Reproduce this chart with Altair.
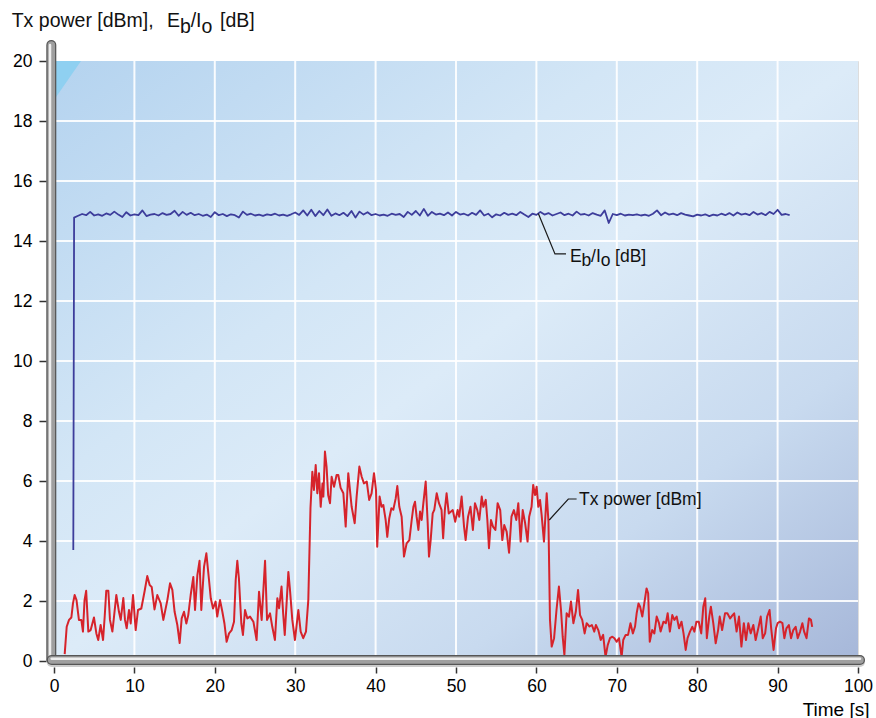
import altair as alt
import pandas as pd

FONT = "Liberation Sans"

# ---------------- data ----------------
x_ticks = [0, 10, 20, 30, 40, 50, 60, 70, 80, 90, 100]
y_ticks = [0, 2, 4, 6, 8, 10, 12, 14, 16, 18, 20]
x_grid = [10, 20, 30, 40, 50, 60, 70, 80, 90]
y_grid = [2, 4, 6, 8, 10, 12, 14, 16, 18]

# Tx power [dBm]
tx_time_a = [1.33, 1.58, 1.87, 2.16, 2.36, 2.57, 2.8, 3.1, 3.4, 3.6, 3.8, 4.0, 4.27, 4.56, 4.97, 5.27, 5.5, 5.8,
             6.1, 6.3, 6.5, 6.76, 6.96, 7.26, 7.46, 7.75, 8.08, 8.3, 8.62, 8.83, 9.04, 9.33, 9.54, 9.83, 10.16,
             10.45, 10.86, 11.28, 11.6, 11.9, 12.15, 12.5, 12.85, 13.27, 13.6, 14.1, 14.43, 14.72, 15.0, 15.34,
             15.63, 15.88, 16.17, 16.46, 16.7, 17.0, 17.33, 17.54, 17.83, 18.1, 18.32, 18.66, 18.95, 19.28, 19.5,
             19.78, 20.1, 20.3, 20.65, 20.94, 21.2, 21.47, 21.77, 22.1, 22.39, 22.6, 22.8, 23.0, 23.3, 23.5,
             23.76, 24.05]
tx_power_a = [0.23, 1.14, 1.37, 1.45, 1.92, 2.2, 2.03, 1.37, 1.37, 0.98, 2.03, 2.34, 0.98, 1.03, 1.45, 0.92, 0.7,
              1.2, 0.7, 1.46, 2.34, 2.34, 1.37, 0.98, 1.46, 2.2, 1.64, 1.37, 2.1, 1.37, 1.09, 1.7, 1.25, 2.2, 1.03,
              1.7, 1.75, 2.34, 2.83, 2.53, 2.47, 1.72, 2.2, 1.92, 1.37, 2.03, 2.59, 2.37, 1.64, 1.2, 0.6, 1.42,
              1.64, 1.25, 1.53, 2.2, 2.8, 1.7, 2.86, 3.34, 1.7, 3.14, 3.59, 2.7, 2.09, 1.75, 1.98, 1.48, 2.03,
              1.64, 1.25, 0.64, 0.92, 1.03, 1.31, 2.7, 3.34, 2.75, 1.25, 0.87, 1.7, 1.42]
tx_time_b = [24.38, 24.8, 25.2, 25.5, 25.83, 26.25, 26.5, 26.87, 27.15, 27.48, 27.78, 28.0, 28.3, 28.5, 28.7,
             28.94, 29.15, 29.35, 29.64, 29.97, 30.39, 30.68, 31.0, 31.34, 31.63, 31.9, 32.13, 32.33, 32.55,
             32.75, 32.96, 33.17, 33.4, 33.5, 33.7, 33.9, 34.1, 34.33, 34.53, 34.83, 35.15, 35.36, 35.65, 35.99,
             36.28, 36.6, 37.02, 37.4, 37.64, 37.98, 38.27, 38.55, 38.9, 39.2, 39.5, 39.8, 40.05, 40.2, 40.5,
             40.74, 40.96, 41.25, 41.45, 41.7, 41.96, 42.2, 42.5, 42.7, 42.95, 43.24, 43.53, 43.86, 44.2, 44.49,
             44.7, 44.9, 45.1, 45.32, 45.53, 45.73, 45.94, 46.23, 46.48, 46.64, 46.85, 47.1, 47.3, 47.6, 47.88,
             48.2, 48.4, 48.63, 48.83, 49.1]
tx_power_b = [1.48, 1.31, 0.70, 2.31, 1.37, 3.34, 1.37, 1.59, 1.14, 0.70, 2.09, 1.76, 2.48, 1.59, 0.87, 1.98,
              2.97, 2.37, 1.37, 0.7, 1.7, 0.98, 0.76, 0.98, 2.03, 5.09, 6.31, 5.7, 6.53, 5.59, 6.26, 5.14, 5.92,
              5.48, 6.98, 6.48, 5.53, 5.26, 6.14, 5.81, 6.2, 6.2, 5.77, 5.59, 4.48, 6.26, 5.14, 4.59, 5.48, 6.48,
              6.14, 5.92, 5.98, 5.37, 5.59, 6.26, 5.7, 3.81, 5.48, 5.14, 5.2, 4.7, 4.14, 4.76, 5.09, 5.04, 5.42,
              5.83, 5.14, 4.81, 3.48, 3.92, 4.03, 4.7, 5.14, 5.31, 4.81, 4.37, 4.98, 4.7, 5.26, 5.98, 4.59, 3.48,
              4.03, 4.92, 5.04, 5.59, 5.26, 5.04, 4.09, 5.09, 5.59, 4.92]
tx_time_c = [49.6, 49.9, 50.2, 50.4, 50.7, 51.0, 51.2, 51.5, 51.8, 52.1, 52.36, 52.65, 52.9, 53.2, 53.4, 53.7,
             53.9, 54.1, 54.35, 54.6, 54.9, 55.18, 55.5, 55.76, 56.0, 56.3, 56.6, 56.9, 57.2, 57.5, 57.75, 58.04,
             58.3, 58.6, 58.9, 59.1, 59.4, 59.6, 59.83, 60.03, 60.24, 60.45, 60.65, 60.94, 61.28, 61.5, 61.69,
             61.9, 62.2, 62.5, 62.8, 63.06, 63.27, 63.48, 63.76, 64.05, 64.3, 64.6, 64.9, 65.18, 65.43, 65.7,
             66.0, 66.25, 66.6, 66.9, 67.2, 67.4, 67.7, 68.0, 68.3, 68.6, 68.87, 69.15, 69.45, 69.7, 69.98,
             70.27, 70.6, 70.8, 71.1, 71.4, 71.7, 72.0, 72.27, 72.47, 72.7, 72.9, 73.17, 73.42, 73.7, 73.9, 74.1]
tx_power_c = [5.03, 4.64, 5.03, 4.81, 5.48, 4.48, 4.03, 4.81, 5.14, 4.37, 5.26, 5.03, 4.7, 5.48, 5.14, 5.37, 4.7,
              3.76, 4.7, 4.48, 4.37, 5.26, 5.03, 4.03, 4.53, 4.31, 3.61, 4.81, 5.03, 4.7, 5.26, 3.98, 5.03, 4.59,
              3.98, 4.81, 5.14, 5.87, 5.53, 5.81, 5.14, 5.37, 4.87, 3.98, 5.59, 4.64, 1.37, 0.48, 0.76, 1.7, 2.48,
              1.7, 0.81, 0.2, 1.59, 1.48, 1.98, 1.26, 1.64, 2.37, 1.53, 1.37, 0.92, 1.26, 1.15, 1.2, 0.98, 1.2,
              1.03, 0.7, 0.87, 0.14, 0.53, 0.76, 0.81, 0.76, 0.64, 0.76, 0.14, 0.7, 0.87, 0.87, 1.26, 0.92, 1.15,
              1.59, 1.92, 1.81, 1.48, 1.92, 2.42, 2.26, 0.64]
tx_time_d = [74.4, 74.67, 74.96, 75.25, 75.45, 75.8, 76.1, 76.33, 76.6, 76.9, 77.16, 77.45, 77.74, 78.05, 78.3,
             78.57, 78.8, 79.1, 79.4, 79.65, 79.9, 80.2, 80.5, 80.76, 81.0, 81.2, 81.5, 81.7, 82.0, 82.3, 82.6,
             82.8, 83.1, 83.46, 83.75, 84.1, 84.4, 84.6, 84.9, 85.2, 85.5, 85.8, 86.07, 86.36, 86.65, 86.98,
             87.27, 87.6, 87.9, 88.15, 88.45, 88.7, 89.0, 89.2, 89.5, 89.8, 90.0, 90.3, 90.6, 90.84, 91.1, 91.4,
             91.67, 91.95, 92.25, 92.5, 92.8, 93.08, 93.3, 93.6, 93.9, 94.15, 94.3]
tx_power_d = [1.03, 0.92, 1.48, 1.26, 0.98, 1.31, 1.26, 1.59, 0.98, 1.53, 1.37, 1.48, 1.09, 1.31, 0.92, 0.37,
              0.76, 0.98, 1.14, 0.98, 1.31, 1.31, 0.92, 1.81, 2.09, 0.76, 1.48, 1.81, 1.26, 0.59, 1.03, 1.48,
              1.03, 1.59, 1.59, 1.42, 1.53, 1.59, 0.98, 1.48, 0.48, 1.26, 0.7, 1.26, 0.92, 1.2, 0.7, 1.09, 1.48,
              0.76, 0.92, 1.48, 1.7, 1.09, 0.37, 1.09, 1.26, 1.31, 1.26, 0.76, 1.09, 1.2, 0.76, 1.03, 1.14, 0.76,
              0.98, 1.26, 0.98, 0.76, 1.42, 1.37, 1.14]

# Eb/Io [dB]
eb_time = [2.4, 2.5, 3.0, 3.5, 4.0, 4.5, 5.0, 5.5, 6.0, 6.5, 7.0,
           7.5, 8.0, 8.5, 9.0, 9.5, 10.0, 10.5, 11.0, 11.5, 12.0,
           12.5, 13.0, 13.5, 14.0, 14.5, 15.0, 15.5, 16.0, 16.5, 17.0,
           17.5, 18.0, 18.5, 19.0, 19.5, 20.0, 20.5, 21.0, 21.5, 22.0,
           22.5, 23.0, 23.5, 24.0, 24.5, 25.0, 25.5, 26.0, 26.5, 27.0,
           27.5, 28.0, 28.5, 29.0, 29.5, 30.0, 30.5, 31.0, 31.5, 32.0,
           32.5, 33.0, 33.5, 34.0, 34.5, 35.0, 35.5, 36.0, 36.5, 37.0,
           37.5, 38.0, 38.5, 39.0, 39.5, 40.0, 40.5, 41.0, 41.5, 42.0,
           42.5, 43.0, 43.5, 44.0, 44.5, 45.0, 45.5, 46.0, 46.5, 47.0,
           47.5, 48.0, 48.5, 49.0, 49.5, 50.0, 50.5, 51.0, 51.5, 52.0,
           52.5, 53.0, 53.5, 54.0, 54.5, 55.0, 55.5, 56.0, 56.5, 57.0,
           57.5, 58.0, 58.5, 59.0, 59.5, 60.0, 60.5, 61.0, 61.5, 62.0,
           62.5, 63.0, 63.5, 64.0, 64.5, 65.0, 65.5, 66.0, 66.5, 67.0,
           67.5, 68.0, 68.5, 69.0, 69.5, 70.0, 70.5, 71.0, 71.5, 72.0,
           72.5, 73.0, 73.5, 74.0, 74.5, 75.0, 75.5, 76.0, 76.5, 77.0,
           77.5, 78.0, 78.5, 79.0, 79.5, 80.0, 80.5, 81.0, 81.5, 82.0,
           82.5, 83.0, 83.5, 84.0, 84.5, 85.0, 85.5, 86.0, 86.5, 87.0,
           87.5, 88.0, 88.5, 89.0, 89.5, 90.0, 90.5, 91.0, 91.5]
eb_value = [3.7, 14.78, 14.84, 14.9, 14.86, 14.97, 14.85, 14.89, 14.84, 14.92, 14.87,
            14.98, 14.88, 14.8, 14.96, 14.85, 14.89, 14.86, 15.02, 14.83, 14.88,
            14.9, 14.85, 14.93, 14.87, 14.9, 15.01, 14.84, 14.97, 14.87, 14.94,
            14.86, 14.9, 14.84, 14.88, 14.8, 14.96, 14.86, 14.9, 14.83, 14.89,
            14.86, 14.78, 14.98, 14.87, 14.91, 14.85, 14.88, 14.84, 14.89, 14.86,
            14.91, 14.85, 14.88, 14.84, 14.89, 14.95, 14.87, 15.02, 14.85, 15.04,
            14.83, 15.0, 14.86, 15.05, 14.84, 14.92, 14.86, 14.94, 14.83, 15.0,
            14.78, 14.98, 14.88, 14.96, 14.86, 14.9, 14.85, 14.88, 14.84, 14.91,
            14.87, 14.9, 14.8, 14.97, 14.87, 15.0, 14.85, 15.07, 14.84, 14.97,
            14.88, 14.91, 14.86, 14.95, 14.85, 14.97, 14.88, 14.91, 14.85, 14.94,
            14.87, 15.02, 14.85, 14.91, 14.79, 14.89, 14.85, 14.94, 14.87, 14.91,
            14.86, 14.97, 14.88, 14.8, 14.91, 14.87, 14.97, 14.88, 14.93, 14.85,
            14.9, 14.95, 14.86, 14.91, 14.85, 14.98, 14.88, 14.9, 14.85, 14.93,
            14.88, 14.84, 15.02, 14.6, 14.9, 14.86, 14.91, 14.85, 14.88, 14.86,
            14.89, 14.85, 14.88, 14.84, 14.91, 15.02, 14.86, 14.95, 14.88, 14.91,
            14.86, 14.93, 14.88, 14.85, 14.82, 14.88, 14.85, 14.89, 14.83, 14.88,
            14.85, 14.91, 14.86, 14.93, 14.85, 14.95, 14.88, 14.91, 14.86, 14.97,
            14.88, 14.93, 14.86, 14.97, 14.9, 15.04, 14.87, 14.9, 14.86]

# annotation leaders (data coordinates)
leader_grp = ["eb", "eb", "eb", "tx", "tx", "tx"]
leader_t = [60.24, 62.31, 63.68, 61.6, 63.97, 65.0]
leader_v = [14.92, 13.57, 13.57, 4.7, 5.4, 5.4]

# in-plot label pieces (subscripts as separate pieces)
lab_text = ["E", "b", "/I", "o", "[dB]", "Tx power [dBm]"]
lab_t = [64.18, 65.6, 66.8, 68.0, 69.78, 65.3]
lab_v = [13.3, 13.17, 13.3, 13.17, 13.3, 5.2]

# y-axis title pieces
ttl_text = ["Tx power [dBm],", "E", "b", "/I", "o", "[dB]"]
ttl_t = [-5.26, 14.05, 15.67, 17.0, 18.36, 20.65]
ttl_v = [21.12, 21.12, 20.92, 21.12, 20.92, 21.12]

# ---------------- frames ----------------
tx_df = pd.DataFrame({"t": tx_time_a + tx_time_b + tx_time_c + tx_time_d,
                      "v": tx_power_a + tx_power_b + tx_power_c + tx_power_d})
eb_df = pd.DataFrame({"t": eb_time, "v": eb_value})
lead_df = pd.DataFrame({"g": leader_grp, "t": leader_t, "v": leader_v})
lab_df = pd.DataFrame({"text": lab_text, "t": lab_t, "v": lab_v})
ttl_df = pd.DataFrame({"text": ttl_text, "t": ttl_t, "v": ttl_v})
bg_df = pd.DataFrame({"t": [0], "t2": [100], "v": [0], "v2": [20]})
tri_df = pd.DataFrame({"t": [0, 3.36], "v": [18.7, 20], "v2": [20, 20]})
vg_df = pd.DataFrame({"t": x_grid, "v": [0] * len(x_grid), "v2": [20] * len(x_grid)})
hg_df = pd.DataFrame({"v": y_grid, "t": [0] * len(y_grid), "t2": [100] * len(y_grid)})
vbar_df = pd.DataFrame({"t": [0], "v": [0.03], "v2": [20.53]})
hbar_df = pd.DataFrame({"v": [0], "t": [-0.29], "t2": [100.25]})

xs = alt.Scale(domain=[0, 100], nice=False, zero=False)
ys = alt.Scale(domain=[0, 20], nice=False, zero=False)

xax = alt.Axis(values=x_ticks, offset=6, tickSize=6, tickWidth=1.5, tickColor="#333333", domain=False,
               grid=False, labelFontSize=17.5, labelFont=FONT, labelColor="#000000", labelPadding=4,
               labelFlush=False, title="Time [s]", titleFontSize=19, titleFont=FONT, titleFontWeight="normal",
               titleColor="#000000", titleAlign="right", titleAnchor="end", titleX=815, titleY=48,
               titleBaseline="alphabetic", format="d")
yax = alt.Axis(values=y_ticks, offset=8, tickSize=7, tickWidth=1.5, tickColor="#333333", domain=False,
               grid=False, labelFontSize=17.5, labelFont=FONT, labelColor="#000000", labelPadding=7,
               labelFlush=False, title=None, format="d")


def X(f="t"):
    return alt.X(f, type="quantitative", scale=xs, axis=xax)


def Y(f="v"):
    return alt.Y(f, type="quantitative", scale=ys, axis=yax)


grad = alt.LinearGradient(
    gradient="linear", x1=0, y1=0, x2=1, y2=1,
    stops=[alt.GradientStop(color="#b4d3ef", offset=0),
           alt.GradientStop(color="#d3e6f6", offset=0.35),
           alt.GradientStop(color="#dcebf8", offset=0.5),
           alt.GradientStop(color="#c8daef", offset=0.75),
           alt.GradientStop(color="#a6b7d9", offset=1)])

bg = alt.Chart(bg_df).mark_rect(fill=grad).encode(x=X(), x2="t2", y=Y(), y2="v2")
tri = alt.Chart(tri_df).mark_area(color="#8fd0f1").encode(x=X(), y=Y(), y2="v2")
vgrid = alt.Chart(vg_df).mark_rule(color="white", strokeWidth=2, opacity=0.9).encode(x=X(), y=Y(), y2="v2")
hgrid = alt.Chart(hg_df).mark_rule(color="white", strokeWidth=2, opacity=0.9).encode(y=Y(), x=X(), x2="t2")

eb_line = alt.Chart(eb_df).mark_line(color="#3d3d9b", strokeWidth=1.8, strokeJoin="round").encode(x=X(), y=Y())
tx_line = alt.Chart(tx_df).mark_line(color="#d6232b", strokeWidth=2.0, strokeJoin="round").encode(x=X(), y=Y())

leaders = alt.Chart(lead_df).mark_line(color="#1a1a1a", strokeWidth=1.2).encode(
    x=X(), y=Y(), detail="g:N")
labels = alt.Chart(lab_df).mark_text(align="left", baseline="alphabetic", font=FONT, fontSize=17.5,
                                     color="#111111").encode(x=X(), y=Y(), text="text:N")
titles = alt.Chart(ttl_df).mark_text(align="left", baseline="alphabetic", font=FONT, fontSize=19.5,
                                     color="#111111").encode(x=X(), y=Y(), text="text:N")


def vbar(color, width, off):
    return alt.Chart(vbar_df).mark_rule(color=color, strokeWidth=width, strokeCap="round",
                                        xOffset=off).encode(x=X(), y=Y(), y2="v2")


def hbar(color, width, off):
    return alt.Chart(hbar_df).mark_rule(color=color, strokeWidth=width, strokeCap="round",
                                        yOffset=off).encode(y=Y(), x=X(), x2="t2")


frame = [
    vbar("#555555", 10, -2.7), vbar("#9f9f9f", 7.5, -2.7), vbar("#eeeeee", 2.5, -4.0),
    hbar("#cccccc", 10, 1), hbar("#555555", 10, -1), hbar("#9f9f9f", 7.5, -1), hbar("#eeeeee", 2.5, -2.3),
]

chart = alt.layer(bg, tri, vgrid, hgrid, eb_line, tx_line, leaders, labels, titles, *frame).properties(
    width=804, height=600,
    padding={"left": 54, "top": 61, "right": 18, "bottom": 57},
    autosize=alt.AutoSizeParams(type="none"),
).configure_view(stroke=None).configure(background="white")

chart.save("out.html", embed_options={"renderer": "svg", "actions": False})
